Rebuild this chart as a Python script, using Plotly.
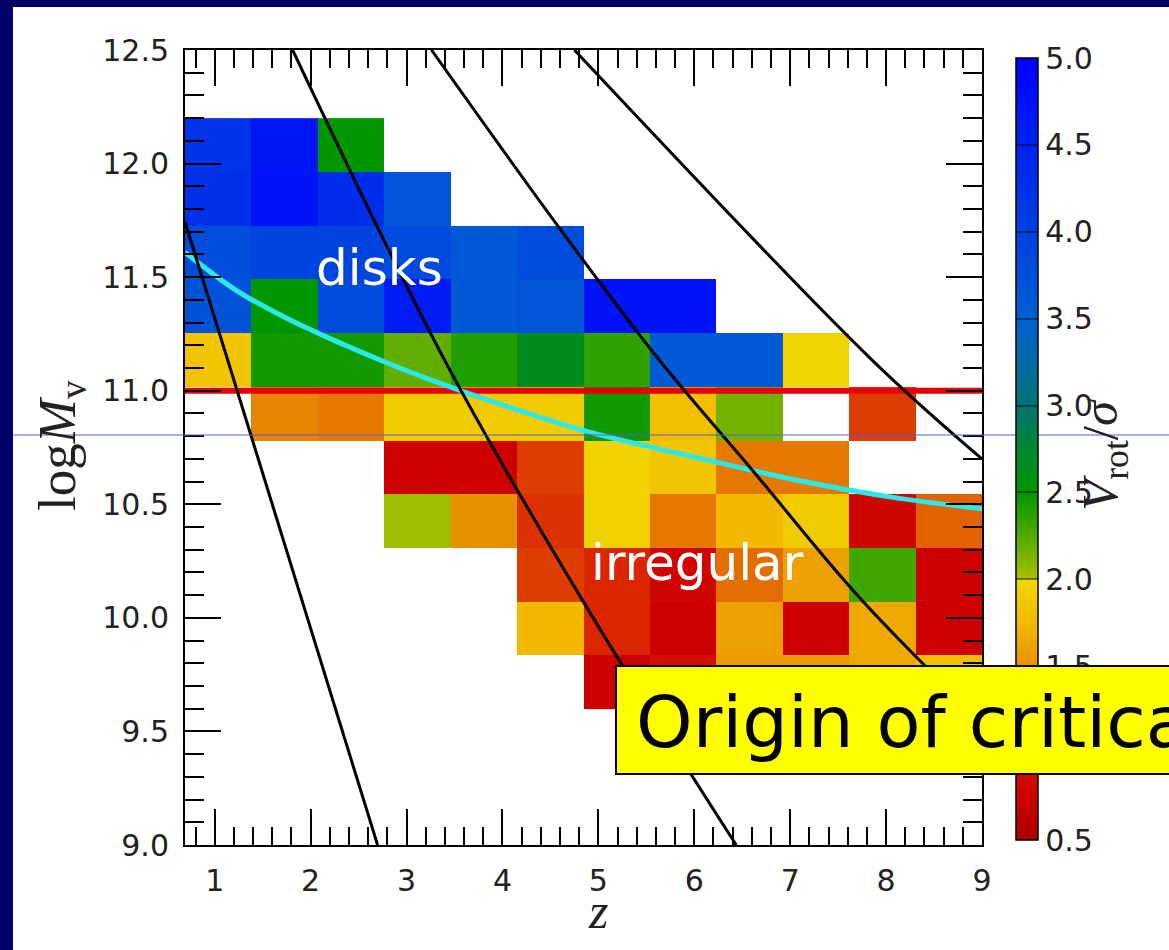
import plotly.graph_objects as go

# ---------------- data ----------------
z_edges = [0.69 + 0.6925 * i for i in range(13)]          # redshift bin edges
m_edges = [9.6 + 0.23636 * j for j in range(12)]           # log Mv bin edges (bottom -> top)

N = None
# V_rot / sigma, rows listed from top (logMv ~12.08) to bottom (~9.72)
vrot_rows_top_down = [
    [4.25, 4.70, 2.50, N, N, N, N, N, N, N, N, N],
    [4.30, 4.75, 4.35, 3.65, N, N, N, N, N, N, N, N],
    [3.80, 3.95, 3.95, 3.85, 3.60, 3.80, N, N, N, N, N, N],
    [3.70, 2.50, 3.85, 4.60, 3.60, 3.65, 4.75, 4.75, N, N, N, N],
    [1.85, 2.45, 2.45, 2.20, 2.40, 2.65, 2.35, 3.60, 3.60, 1.97, N, N],
    [N, 1.45, 1.40, 1.90, 1.90, 1.90, 2.45, 1.80, 2.15, N, 1.15, N],
    [N, N, N, 0.75, 0.75, 1.15, 1.95, 1.85, 1.40, 1.40, N, N],
    [N, N, N, 2.03, 1.50, 1.10, 1.95, 1.40, 1.75, 1.90, 0.80, 1.30],
    [N, N, N, N, N, 1.15, 1.05, 0.80, 1.35, 1.60, 2.30, 0.75],
    [N, N, N, N, N, 1.75, 1.05, 0.75, 1.60, 0.75, 1.65, 0.75],
    [N, N, N, N, N, N, 0.75, 0.90, 1.55, 1.55, 1.65, 1.80],
]
vrot = vrot_rows_top_down[::-1]

# black diagonal curves (z, logMv)
line1_z = [0.69, 2.698]
line1_m = [11.743, 9.0]
line2_z = [1.8125, 3.396, 4.833, 6.4375]
line2_m = [12.5, 11.135, 10.078, 9.0]
line3_z = [3.26, 4.594, 5.635, 6.604, 7.719, 9.0]
line3_m = [12.5, 11.716, 11.135, 10.651, 10.091, 9.54]
line4_z = [4.75, 7.854, 9.0]
line4_m = [12.5, 11.135, 10.70]

# cyan critical-mass curve
cyan_z = [0.69, 0.768, 1.219, 1.75, 2.281, 2.8125, 3.24, 3.875, 4.9375, 6.0, 7.0625, 8.125, 9.0]
cyan_m = [11.61, 11.583, 11.443, 11.319, 11.215, 11.12, 11.05, 10.955, 10.814, 10.708, 10.607, 10.527, 10.48]

# red horizontal threshold
red_z = [0.69, 9.0]
red_m = [11.0, 11.0]

x_ticks = [1, 2, 3, 4, 5, 6, 7, 8, 9]
y_ticks = [9.0, 9.5, 10.0, 10.5, 11.0, 11.5, 12.0, 12.5]
cb_ticks = [0.5, 1.0, 1.5, 2.0, 2.5, 3.0, 3.5, 4.0, 4.5, 5.0]

# ---------------- colours ----------------
VMIN, VMAX = 0.5, 5.0
def nv(v):
    return (v - VMIN) / (VMAX - VMIN)

cstops = [
    (0.5, "rgb(170,0,0)"), (0.75, "rgb(205,0,0)"), (1.0, "rgb(215,25,0)"),
    (1.25, "rgb(225,85,0)"), (1.5, "rgb(232,145,0)"), (1.75, "rgb(242,185,0)"),
    (1.999, "rgb(240,215,0)"), (2.0, "rgb(170,190,0)"), (2.25, "rgb(80,170,0)"),
    (2.5, "rgb(0,150,0)"), (2.75, "rgb(0,135,50)"), (3.0, "rgb(0,115,115)"),
    (3.5, "rgb(0,95,210)"), (4.0, "rgb(0,65,225)"), (4.5, "rgb(0,35,240)"),
    (5.0, "rgb(0,0,255)"),
]
colorscale = [[nv(v), c] for v, c in cstops]

# ---------------- layout geometry (pixels) ----------------
W, H = 1169, 950
L, R, T, B = 185, 187, 50, 105
PW, PH = W - L - R, H - T - B

def px(xp):
    return (xp - L) / PW

def py(yp):
    return (H - B - yp) / PH

TICKFONT = dict(family="DejaVu Sans", size=30, color="#222222")

fig = go.Figure()

fig.add_trace(go.Heatmap(
    x=z_edges, y=m_edges, z=vrot,
    zmin=VMIN, zmax=VMAX, colorscale=colorscale,
    hoverinfo="skip",
    colorbar=dict(
        x=px(1006), xanchor="left", xref="paper",
        y=py(449), yanchor="middle",
        len=802 / PH, lenmode="fraction",
        thickness=22, thicknessmode="pixels",
        outlinecolor="black", outlinewidth=1.5,
        tickvals=cb_ticks, ticktext=[f"{v:.1f}" for v in cb_ticks],
        ticks="inside", ticklen=22, tickwidth=1.5, tickcolor="rgba(0,0,0,0.45)",
        tickfont=TICKFONT,
    ),
))

fig.add_trace(go.Scatter(x=red_z, y=red_m, mode="lines",
                         line=dict(color="rgb(232,0,0)", width=6),
                         hoverinfo="skip", showlegend=False))
fig.add_trace(go.Scatter(x=cyan_z, y=cyan_m, mode="lines",
                         line=dict(color="rgb(45,232,232)", width=5, shape="spline", smoothing=0.8),
                         hoverinfo="skip", showlegend=False))
for lz, lm in [(line1_z, line1_m), (line2_z, line2_m), (line3_z, line3_m), (line4_z, line4_m)]:
    fig.add_trace(go.Scatter(x=lz, y=lm, mode="lines",
                             line=dict(color="black", width=3, shape="spline", smoothing=1.0),
                             hoverinfo="skip", showlegend=False))

axis_common = dict(
    showline=True, linecolor="black", linewidth=2, mirror="allticks",
    ticks="inside", tickcolor="black", tickwidth=2,
    showgrid=False, zeroline=False, tickfont=TICKFONT,
)
fig.update_xaxes(range=[0.69, 9.0], tickvals=x_ticks, ticklen=36,
                 minor=dict(dtick=0.2, tick0=0, ticks="inside", ticklen=18,
                            tickwidth=1.5, tickcolor="black", showgrid=False),
                 ticklabelstandoff=8, **axis_common)
fig.update_yaxes(range=[9.0, 12.5], tickvals=y_ticks,
                 ticktext=[f"{v:.1f}" for v in y_ticks], ticklen=36,
                 minor=dict(dtick=0.1, tick0=0, ticks="inside", ticklen=19,
                            tickwidth=1.5, tickcolor="black", showgrid=False),
                 ticklabelstandoff=8, **axis_common)

NAVY = "#000066"
shapes = [
    dict(type="rect", xref="paper", yref="paper", x0=px(0), x1=px(13), y0=py(H), y1=py(0),
         fillcolor=NAVY, line=dict(width=0), layer="above"),
    dict(type="rect", xref="paper", yref="paper", x0=px(0), x1=px(W), y0=py(7), y1=py(0),
         fillcolor=NAVY, line=dict(width=0), layer="above"),
    dict(type="line", xref="paper", yref="paper", x0=px(13), x1=px(W), y0=py(435), y1=py(435),
         line=dict(color="rgb(90,90,205)", width=1), layer="above"),
]

CASUAL = "DejaVu Sans, sans-serif"
annotations = [
    dict(text="log<i>M</i><sub>v</sub>", xref="paper", yref="paper", x=px(61), y=py(446),
         xanchor="center", yanchor="middle",
         showarrow=False, textangle=-90, font=dict(family="Liberation Serif", size=53, color="#222222")),
    dict(text="<i>z</i>", xref="paper", yref="paper", x=px(598), y=py(911),
         xanchor="center", yanchor="middle",
         showarrow=False, font=dict(family="Liberation Serif", size=50, color="#222222")),
    dict(text="<i>V</i><sub>rot</sub>/<i>σ</i>", xref="paper", yref="paper", x=px(1104), y=py(455),
         xanchor="center", yanchor="middle",
         showarrow=False, textangle=-90, font=dict(family="Liberation Serif", size=51, color="#222222")),
    dict(text="disks", x=2.72, y=11.54, xref="x", yref="y", showarrow=False,
         xanchor="center", yanchor="middle",
         font=dict(family=CASUAL, size=50, color="white")),
    dict(text="irregular", x=6.03, y=10.24, xref="x", yref="y", showarrow=False,
         xanchor="center", yanchor="middle",
         font=dict(family=CASUAL, size=50, color="white")),
    # yellow box
    dict(text=" ", xref="paper", yref="paper", x=px(615), y=py(720), xanchor="left", yanchor="middle",
         showarrow=False, width=700, height=106, bgcolor="#ffff00",
         bordercolor="black", borderwidth=2, borderpad=0),
    dict(text="Origin of critical mass", xref="paper", yref="paper", x=px(634), y=py(722),
         xanchor="left", yanchor="middle", showarrow=False, align="left",
         font=dict(family=CASUAL, size=72, color="black")),
]

fig.update_layout(
    width=W, height=H, autosize=False,
    margin=dict(l=L, r=R, t=T, b=B, pad=0),
    paper_bgcolor="white", plot_bgcolor="white",
    showlegend=False, shapes=shapes, annotations=annotations,
)

fig.write_html("out.html")
